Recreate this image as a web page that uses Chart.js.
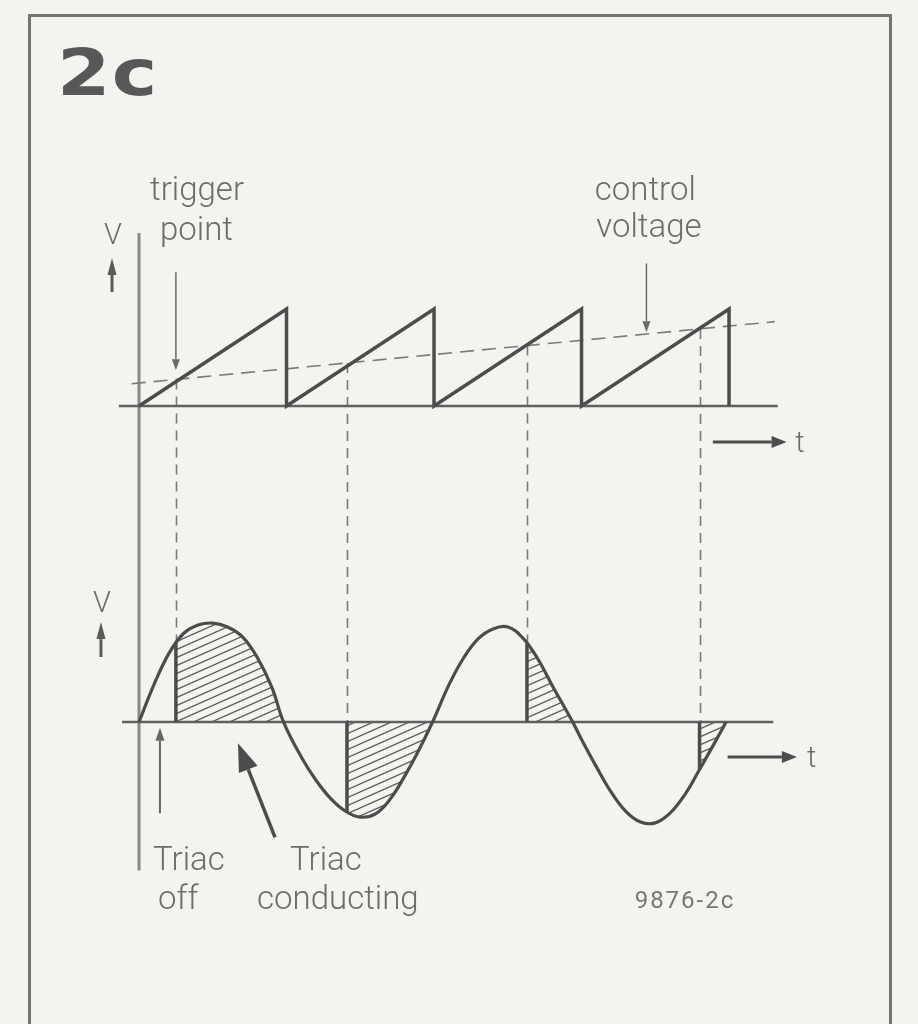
<!DOCTYPE html>
<html>
<head>
<meta charset="utf-8">
<script src="https://cdn.jsdelivr.net/npm/chart.js@4.4.1/dist/chart.umd.min.js"></script>
<style>
  html, body { margin: 0; padding: 0; background: #f3f3ef; }
  #wrap { position: relative; width: 918px; height: 1024px; overflow: hidden; background: #f3f3ef; }
  #frame { position: absolute; left: 28px; top: 14px; width: 858px; height: 1040px;
           border: 3px solid #737373; border-bottom: none; }
  #fig { position: absolute; left: 57px; top: 36px; margin: 0; line-height: 64px;
         font: bold 64px "DejaVu Sans"; color: #585858; transform: scaleX(1.2);
         transform-origin: left top; letter-spacing: 1px; }
  canvas { position: absolute; left: 0; top: 0; }
</style>
</head>
<body>
<div id="wrap">
  <div id="frame"></div>
  <div id="fig">2c</div>
  <canvas id="c" width="918" height="1024"></canvas>
</div>
<script>
// Ramp generator (ms, relative level): resets at every mains zero crossing
const sawT = [0, 10, 10, 20, 20, 30, 30, 40, 40];
const sawV = [0, 1, 0, 1, 0, 1, 0, 1, 0];

// Slowly rising control voltage (dashed)
const ctrlT = [-0.5, 43.1];
const ctrlV = [0.23, 0.87];

// Mains voltage (ms, relative amplitude)
const mainsT = [0, 1, 2, 3, 4, 5, 6, 7, 8, 9, 9.8, 11, 12, 13, 14, 15, 16, 17, 18, 19, 19.9,
                21, 22, 23, 24, 25, 26, 27, 28, 29.4, 30, 31, 32, 33, 34, 35, 36, 37, 38, 39, 39.8];
const mainsV = [0, 0.38, 0.7, 0.91, 1.0, 1.02, 0.98, 0.88, 0.67, 0.36, 0, -0.36, -0.6, -0.79, -0.92, -0.98, -0.95, -0.8, -0.56, -0.28, 0,
                0.38, 0.66, 0.86, 0.96, 0.98, 0.87, 0.66, 0.38, 0, -0.18, -0.46, -0.72, -0.92, -1.03, -1.04, -0.94, -0.75, -0.49, -0.22, 0];

// Trigger instants and the mains level at each of them
const triggerT = [2.5, 14.1, 26.3, 38.0];
const triggerV = [0.82, -0.93, 0.81, -0.49];

// Time axis extent of the two base lines
const rampAxisT = [-1.36, 43.3];
const mainsAxisT = [-1.15, 43.0];
// Common vertical axis (in mains units)
const vAxisV = [5.04, -1.53];

const INK = '#4c4c4c';
const GREY = '#7a7a7a';
const TEXT = '#6c6c6c';
const TENSION = 0.4;

function pts(xs, ys) { return xs.map((x, i) => ({ x, y: ys[i] })); }
function ctrlAt(t) {
  return ctrlV[0] + (ctrlV[1] - ctrlV[0]) * (t - ctrlT[0]) / (ctrlT[1] - ctrlT[0]);
}

// Diagonal hatching for the conducting intervals
function hatch() {
  const W = 18, H = 8;
  const c = document.createElement('canvas');
  c.width = W; c.height = H;
  const g = c.getContext('2d');
  g.strokeStyle = '#5e5e5e';
  g.lineWidth = 1.3;
  for (let k = -2; k <= 2; k++) {
    g.beginPath();
    g.moveTo(-W, 2 * H + k * H);
    g.lineTo(2 * W, -H + k * H);
    g.stroke();
  }
  return g.createPattern(c, 'repeat');
}
const hatchFill = hatch();

// Hatched areas: from each trigger instant to the next zero crossing
const zeroT = mainsT.filter((t, i) => mainsV[i] === 0 && t > 0);
const conductSets = triggerT.map((tt, i) => {
  const tz = zeroT.find(z => z > tt);
  const d = [{ x: tt, y: triggerV[i] }];
  mainsT.forEach((t, j) => { if (t > tt && t <= tz) d.push({ x: t, y: mainsV[j] }); });
  return {
    data: d, yAxisID: 'yM', fill: 'origin', backgroundColor: hatchFill,
    borderColor: 'transparent', borderWidth: 0, pointRadius: 0, tension: TENSION
  };
});
// Solid firing edges
const edgeSets = triggerT.map((tt, i) => ({
  data: pts([tt, tt], [0, triggerV[i]]), yAxisID: 'yM',
  borderColor: INK, borderWidth: 3.5, pointRadius: 0, fill: false
}));

const datasets = [
  { data: pts(sawT, sawV), yAxisID: 'yS', borderColor: INK, borderWidth: 3.5,
    pointRadius: 0, fill: false, borderJoinStyle: 'miter', tension: 0 },
  { data: pts(mainsT, mainsV), yAxisID: 'yM', borderColor: INK, borderWidth: 3.2,
    pointRadius: 0, fill: false, tension: TENSION },
  ...edgeSets,
  { data: pts(ctrlT, ctrlV), yAxisID: 'yS', borderColor: GREY, borderWidth: 1.6,
    borderDash: [14, 8], pointRadius: 0, fill: false },
  { data: pts(rampAxisT, [0, 0]), yAxisID: 'yS', borderColor: '#606060', borderWidth: 2.5,
    pointRadius: 0, fill: false },
  { data: pts(mainsAxisT, [0, 0]), yAxisID: 'yM', borderColor: '#606060', borderWidth: 2.5,
    pointRadius: 0, fill: false },
  { data: pts([0, 0], vAxisV), yAxisID: 'yM', borderColor: '#888888', borderWidth: 3,
    pointRadius: 0, fill: false },
  ...conductSets
];

// Dashed projection lines, arrows and captions
const schematic = {
  id: 'schematic',
  beforeDatasetsDraw(chart, args, o) {
    const { ctx, scales: { x, yS, yM } } = chart;
    ctx.save();
    ctx.strokeStyle = GREY;
    ctx.lineWidth = 1.6;
    ctx.setLineDash([10, 7]);
    triggerT.forEach((t, i) => {
      const px = Math.round(x.getPixelForValue(t)) + 0.5;
      const top = yS.getPixelForValue(ctrlAt(t));
      const v = triggerV[i];
      const bottom = yM.getPixelForValue(v > 0 ? v : 0);
      ctx.beginPath(); ctx.moveTo(px, top); ctx.lineTo(px, bottom); ctx.stroke();
    });
    ctx.restore();
  },
  afterDatasetsDraw(chart, args, o) {
    const { ctx, scales } = chart;
    const x = scales.x;
    ctx.save();
    o.arrows.forEach(a => {
      const y = scales[a.axis];
      const x0 = x.getPixelForValue(a.from[0]), y0 = y.getPixelForValue(a.from[1]);
      const x1 = x.getPixelForValue(a.to[0]), y1 = y.getPixelForValue(a.to[1]);
      const ang = Math.atan2(y1 - y0, x1 - x0);
      const [hl, hw] = a.head;
      const bx = x1 - Math.cos(ang) * hl, by = y1 - Math.sin(ang) * hl;
      ctx.strokeStyle = a.color; ctx.fillStyle = a.color;
      ctx.lineWidth = a.width; ctx.lineCap = 'butt';
      ctx.beginPath(); ctx.moveTo(x0, y0); ctx.lineTo(bx, by); ctx.stroke();
      ctx.beginPath();
      ctx.moveTo(x1, y1);
      ctx.lineTo(bx + Math.sin(ang) * hw, by - Math.cos(ang) * hw);
      ctx.lineTo(bx - Math.sin(ang) * hw, by + Math.cos(ang) * hw);
      ctx.closePath(); ctx.fill();
    });
    o.labels.forEach(l => {
      const y = scales[l.axis];
      ctx.font = l.font;
      ctx.fillStyle = l.color || TEXT;
      ctx.textAlign = l.align || 'left';
      ctx.textBaseline = 'alphabetic';
      ctx.letterSpacing = l.spacing || '0px';
      ctx.fillText(l.text, x.getPixelForValue(l.at[0]), y.getPixelForValue(l.at[1]));
    });
    ctx.restore();
  }
};

const LABEL_FONT = '300 33px Roboto';

new Chart(document.getElementById('c'), {
  type: 'line',
  data: { datasets },
  plugins: [schematic],
  options: {
    responsive: false,
    animation: false,
    events: [],
    layout: { padding: 0 },
    scales: {
      x: { type: 'linear', display: false, min: -9.424, max: 52.81 },
      yS: { type: 'linear', display: false, min: -6.371, max: 4.186 },
      yM: { type: 'linear', display: false, min: -3.113, max: 7.443 }
    },
    plugins: {
      legend: { display: false },
      tooltip: { enabled: false },
      schematic: {
        arrows: [
          { axis: 'yS', from: [2.5, 1.38], to: [2.5, 0.37], width: 1.5, head: [11, 4], color: '#6a6a6a' },
          { axis: 'yS', from: [34.4, 1.47], to: [34.4, 0.76], width: 1.5, head: [11, 4], color: '#6a6a6a' },
          { axis: 'yS', from: [-1.83, 1.175], to: [-1.83, 1.526], width: 3, head: [17, 4.5], color: '#5a5a5a' },
          { axis: 'yM', from: [-2.58, 0.67], to: [-2.58, 1.03], width: 3, head: [17, 4.5], color: '#5a5a5a' },
          { axis: 'yS', from: [38.9, -0.371], to: [43.9, -0.371], width: 3, head: [15, 6], color: INK },
          { axis: 'yM', from: [39.9, -0.36], to: [44.6, -0.36], width: 3, head: [15, 6], color: INK },
          { axis: 'yM', from: [1.42, -0.94], to: [1.42, -0.06], width: 2, head: [13, 4.5], color: '#666' },
          { axis: 'yM', from: [9.22, -1.19], to: [6.71, -0.22], width: 3.5, head: [28, 10], color: INK }
        ],
        labels: [
          { text: 'V', axis: 'yS', at: [-1.76, 1.67], font: '300 29px Roboto', align: 'center' },
          { text: 'V', axis: 'yM', at: [-2.51, 1.134], font: '300 29px Roboto', align: 'center' },
          { text: 'trigger', axis: 'yS', at: [0.75, 2.12], font: LABEL_FONT },
          { text: 'point', axis: 'yS', at: [1.42, 1.71], font: LABEL_FONT },
          { text: 'control', axis: 'yS', at: [30.9, 2.12], font: LABEL_FONT },
          { text: 'voltage', axis: 'yS', at: [31.0, 1.74], font: LABEL_FONT },
          { text: 't', axis: 'yS', at: [44.8, -0.474], font: '300 29px Roboto', align: 'center' },
          { text: 't', axis: 'yM', at: [45.6, -0.464], font: '300 29px Roboto', align: 'center' },
          { text: 'Triac', axis: 'yM', at: [0.95, -1.526], font: LABEL_FONT },
          { text: 'off', axis: 'yM', at: [1.29, -1.93], font: LABEL_FONT },
          { text: 'Triac', axis: 'yM', at: [10.24, -1.526], font: LABEL_FONT },
          { text: 'conducting', axis: 'yM', at: [8.0, -1.93], font: LABEL_FONT },
          { text: '9876-2c', axis: 'yM', at: [33.6, -1.92], font: '24px Roboto', spacing: '2px', color: '#777' }
        ]
      }
    }
  }
});
</script>
</body>
</html>
